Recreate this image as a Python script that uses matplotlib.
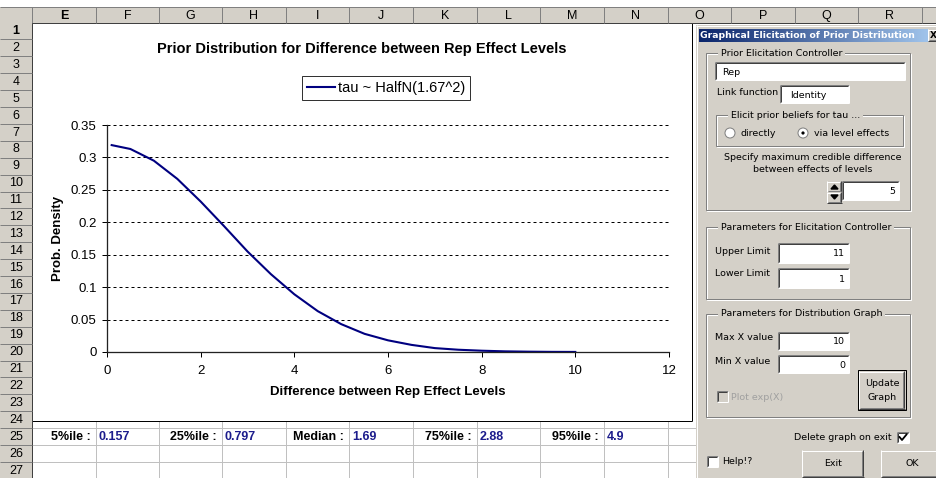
import numpy as np
import matplotlib
matplotlib.use('Agg')
import matplotlib.pyplot as plt
from matplotlib.patches import Rectangle, Circle, Polygon

plt.rcParams['font.family'] = 'Liberation Sans'

# ---- chart data ----
x_vals = [0.1, 0.5, 1.0, 1.5, 2.0, 2.5, 3.0, 3.5, 4.0, 4.5, 5.0, 5.5,
          6.0, 6.5, 7.0, 7.5, 8.0, 8.5, 9.0, 9.5, 10.0]
density = [0.319, 0.313, 0.295, 0.267, 0.232, 0.194, 0.155, 0.120, 0.089,
           0.063, 0.043, 0.028, 0.018, 0.011, 0.006, 0.0035, 0.002, 0.001,
           0.0005, 0.0002, 0.0001]
x_ticks = [0, 2, 4, 6, 8, 10, 12]
y_ticks = [0, 0.05, 0.1, 0.15, 0.2, 0.25, 0.3, 0.35]
y_tick_labels = ['0', '0.05', '0.1', '0.15', '0.2', '0.25', '0.3', '0.35']
series_label = 'tau ~ HalfN(1.67^2)'
chart_title = 'Prior Distribution for Difference between Rep Effect Levels'
x_label = 'Difference between Rep Effect Levels'
y_label = 'Prob. Density'

# percentile summary row (row 25)
stat_names = ['5%ile :', '25%ile :', 'Median :', '75%ile :', '95%ile :']
stat_values = ['0.157', '0.797', '1.69', '2.88', '4.9']

# spreadsheet frame
col_letters = ['E', 'F', 'G', 'H', 'I', 'J', 'K', 'L', 'M', 'N', 'O', 'P', 'Q', 'R']
col_edges = [32, 96, 159, 222, 286, 349, 413, 477, 540, 604, 668, 731, 795, 858, 922, 937]
n_rows = 27

GRAY = '#d4d0c8'
DARK = '#808080'
NAVY = '#000080'
PX = 0.72  # one pixel in points

fig = plt.figure(figsize=(9.37, 4.78), dpi=100)
bg = fig.add_axes([0, 0, 1, 1])
bg.set_xlim(0, 937)
bg.set_ylim(478, 0)
bg.axis('off')


def rect(x0, y0, x1, y1, fc, ec='none', lw=PX, z=1):
    bg.add_patch(Rectangle((x0, y0), x1 - x0, y1 - y0, facecolor=fc,
                           edgecolor=ec, linewidth=lw, zorder=z))


def hline(y, x0, x1, c, lw=PX, z=2, ls='-'):
    bg.plot([x0, x1], [y, y], color=c, lw=lw, zorder=z, ls=ls,
            solid_capstyle='butt')


def vline(x, y0, y1, c, lw=PX, z=2):
    bg.plot([x, x], [y0, y1], color=c, lw=lw, zorder=z, solid_capstyle='butt')


def row_top(k):
    return 22.5 + (k - 1) * 16.9


# ---- sheet: cells, gridlines, headers ----
rect(0, 0, 937, 478, 'white', z=0)
for k in range(25, n_rows + 2):
    hline(row_top(k), 32, 696, '#c0c0c0', z=1)
for x in col_edges[1:11]:
    vline(x, 421, 478, '#c0c0c0', z=1)

rect(0, 7, 937, 23, GRAY, z=3)
hline(7, 0, 937, DARK, z=3)
hline(23, 0, 937, '#404040', z=3)
for i, letter in enumerate(col_letters):
    x0, x1 = col_edges[i], col_edges[i + 1]
    vline(x1, 7, 23, DARK, z=3)
    bg.text((x0 + x1) / 2, 15.5, letter, ha='center', va='center',
            fontsize=9, color='black', zorder=4,
            fontweight='bold' if letter == 'E' else 'normal')
vline(32, 7, 23, DARK, z=3)

rect(0, 23, 32, 478, GRAY, z=3)
vline(32, 23, 478, '#404040', z=3)
for k in range(1, n_rows + 1):
    hline(row_top(k + 1), 0, 32, DARK, z=3)
    bg.text(16, row_top(k) + 8.6, str(k), ha='center', va='center',
            fontsize=9, zorder=4, fontweight='bold' if k == 1 else 'normal')

# chart area
rect(32, 23, 692, 421, 'white', z=2)
vline(692, 23, 421, 'black', z=2)
hline(421, 32, 692, 'black', z=2)

# percentile row
for i, (name, val) in enumerate(zip(stat_names, stat_values)):
    c1 = col_edges[2 * i + 1]
    yc = row_top(25) + 8.6
    bg.text(c1 - 5, yc, name, ha='right', va='center', fontsize=9,
            fontweight='bold', color='black', zorder=4)
    bg.text(c1 + 3, yc, val, ha='left', va='center', fontsize=9,
            fontweight='bold', color='#1c1c8c', zorder=4)

# ---- chart ----
ax = fig.add_axes([107 / 937, (478 - 352) / 478, (669 - 107) / 937,
                   (352 - 125) / 478])
ax.set_zorder(5)
ax.patch.set_alpha(0)
ax.plot(x_vals, density, color=NAVY, lw=1.5, label=series_label)
ax.set_xlim(0, 12)
ax.set_ylim(0, 0.35)
ax.set_xticks(x_ticks)
ax.set_xticklabels([str(t) for t in x_ticks])
ax.set_yticks(y_ticks)
ax.set_yticklabels(y_tick_labels)
ax.yaxis.grid(True, linestyle=(0, (3, 3)), color='black', lw=PX)
ax.set_axisbelow(True)
for s in ['top', 'right']:
    ax.spines[s].set_visible(False)
for s in ['left', 'bottom']:
    ax.spines[s].set_linewidth(PX * 1.3)
    ax.spines[s].set_color('#222222')
ax.tick_params(direction='out', length=3.5, width=PX, labelsize=9.5,
               pad=4, colors='black')
ax.tick_params(axis='x', pad=6)

ax.text((362 - 107) / 562, (352 - 49) / 227, chart_title,
        transform=ax.transAxes, ha='center', va='center', fontsize=10.5,
        fontweight='bold')
ax.set_xlabel(x_label, fontsize=9.5, fontweight='bold')
ax.xaxis.set_label_coords(0.5, -(386 - 352) / 227)
ax.set_ylabel(y_label, fontsize=9.5, fontweight='bold')
ax.yaxis.set_label_coords(-(107 - 64) / 562, 0.5)

leg = ax.legend(loc='center', bbox_to_anchor=(386, 88),
                bbox_transform=bg.transData, fontsize=10.5, frameon=True,
                fancybox=False, shadow=False, handlelength=1.9,
                handletextpad=0.2, borderpad=0.35, borderaxespad=0)
leg.get_frame().set_edgecolor('black')
leg.get_frame().set_linewidth(PX)

# ---- dialog ----
DF = dict(fontsize=6.8, family='DejaVu Sans', zorder=8)


def sunken(x0, y0, x1, y1, fc='white'):
    rect(x0, y0, x1, y1, fc, z=7)
    hline(y0, x0, x1, DARK, z=7)
    vline(x0, y0, y1, DARK, z=7)
    hline(y0 + 1, x0 + 1, x1 - 1, '#404040', z=7)
    vline(x0 + 1, y0 + 1, y1 - 1, '#404040', z=7)
    hline(y1, x0, x1, 'white', z=7)
    vline(x1, y0, y1, 'white', z=7)


def raised(x0, y0, x1, y1, default=False):
    rect(x0, y0, x1, y1, GRAY, z=7)
    hline(y0 + 0.5, x0, x1, 'white', z=7)
    vline(x0 + 0.5, y0, y1, 'white', z=7)
    hline(y1 - 0.5, x0, x1, '#404040', z=7)
    vline(x1 - 0.5, y0, y1, '#404040', z=7)
    hline(y1 - 1.5, x0 + 1, x1 - 1, DARK, z=7)
    vline(x1 - 1.5, y0 + 1, y1 - 1, DARK, z=7)
    if default:
        rect(x0 - 1, y0 - 1, x1 + 1, y1 + 1, 'none', ec='black', lw=PX, z=7)


def group(x0, y0, x1, y1, label):
    rect(x0, y0, x1, y1, 'none', ec=DARK, lw=PX, z=7)
    rect(x0 + 1, y0 + 1, x1 + 1, y1 + 1, 'none', ec='white', lw=PX, z=6.9)
    t = bg.text(x0 + 12, y0, ' ' + label + ' ', ha='left', va='center', **DF)
    t.set_bbox(dict(facecolor=GRAY, edgecolor='none', pad=0))


rect(696, 25, 937, 478, GRAY, z=6)
vline(697.5, 25, 478, 'white', z=6)
hline(25.5, 696, 937, 'white', z=6)

grad = np.linspace(0, 1, 256).reshape(1, -1)
bg.imshow(grad, extent=(699, 937, 42, 29), aspect='auto', zorder=7,
          cmap=matplotlib.colors.LinearSegmentedColormap.from_list(
              'tb', ['#0a246a', '#a6caf0']))
bg.set_xlim(0, 937)
bg.set_ylim(478, 0)
bg.text(700, 35.5, 'Graphical Elicitation of Prior Distribution',
        ha='left', va='center', color='white', fontweight='bold',
        fontsize=6.7, family='DejaVu Sans', zorder=8)
raised(928, 29, 941, 41)
bg.text(930, 35.5, 'X', ha='left', va='center', fontweight='bold',
        fontsize=6.5, family='DejaVu Sans', zorder=8)

# group 1
group(706, 53, 910, 210, 'Prior Elicitation Controller')
sunken(715, 62, 905, 80)
bg.text(722, 72, 'Rep', ha='left', va='center', **DF)
bg.text(717, 92, 'Link function', ha='left', va='center', **DF)
sunken(780, 85, 849, 103)
bg.text(790, 95, 'Identity', ha='left', va='center', **DF)
group(716, 115, 903, 146, 'Elicit prior beliefs for tau ...')
for cx, lab, on in [(730, 'directly', False), (803, 'via level effects', True)]:
    bg.add_patch(Circle((cx, 133), 5, facecolor='white', edgecolor=DARK,
                        lw=PX, zorder=8))
    if on:
        bg.add_patch(Circle((cx, 133), 1.6, facecolor='black',
                            edgecolor='none', zorder=9))
    bg.text(cx + 11, 134, lab, ha='left', va='center', **DF)
bg.text(813, 157, 'Specify maximum credible difference', ha='center',
        va='center', **DF)
bg.text(813, 170, 'between effects of levels', ha='center', va='center', **DF)
raised(827, 181, 842, 192)
raised(827, 192, 842, 203)
bg.add_patch(Polygon([[831, 189], [838, 189], [834.5, 185]], color='black',
                     zorder=9))
bg.add_patch(Polygon([[831, 195], [838, 195], [834.5, 199]], color='black',
                     zorder=9))
sunken(842, 181, 899, 200)
bg.text(895, 191, '5', ha='right', va='center', **DF)

# group 2
group(706, 227, 910, 299, 'Parameters for Elicitation Controller')
bg.text(715, 251, 'Upper Limit', ha='left', va='center', **DF)
sunken(778, 243, 849, 263)
bg.text(845, 254, '11', ha='right', va='center', **DF)
bg.text(715, 273, 'Lower Limit', ha='left', va='center', **DF)
sunken(778, 268, 849, 288)
bg.text(845, 279, '1', ha='right', va='center', **DF)

# group 3
group(706, 314, 910, 417, 'Parameters for Distribution Graph')
bg.text(715, 338, 'Max X value', ha='left', va='center', **DF)
sunken(778, 332, 849, 350)
bg.text(845, 342, '10', ha='right', va='center', **DF)
bg.text(715, 362, 'Min X value', ha='left', va='center', **DF)
sunken(778, 355, 849, 373)
bg.text(845, 365, '0', ha='right', va='center', **DF)
raised(859, 371, 905, 409, default=True)
bg.text(882, 384, 'Update', ha='center', va='center', **DF)
bg.text(882, 397, 'Graph', ha='center', va='center', **DF)
sunken(717, 391, 728, 402, fc=GRAY)
bg.text(731, 397, 'Plot exp(X)', ha='left', va='center', color='#a0a0a0',
        fontsize=6.8, family='DejaVu Sans', zorder=8)

# bottom controls
bg.text(892, 437, 'Delete graph on exit', ha='right', va='center', **DF)
sunken(897, 432, 909, 443)
bg.plot([899.5, 902, 906.5], [437, 440, 434.5], color='black', lw=1.3,
        zorder=9)
sunken(707, 456, 718, 467)
bg.text(722, 462, 'Help!?', ha='left', va='center', **DF)
raised(802, 450, 864, 477)
bg.text(833, 463, 'Exit', ha='center', va='center', **DF)
raised(881, 450, 945, 477)
bg.text(912, 463, 'OK', ha='center', va='center', **DF)

plt.savefig('out.png', dpi=100)
